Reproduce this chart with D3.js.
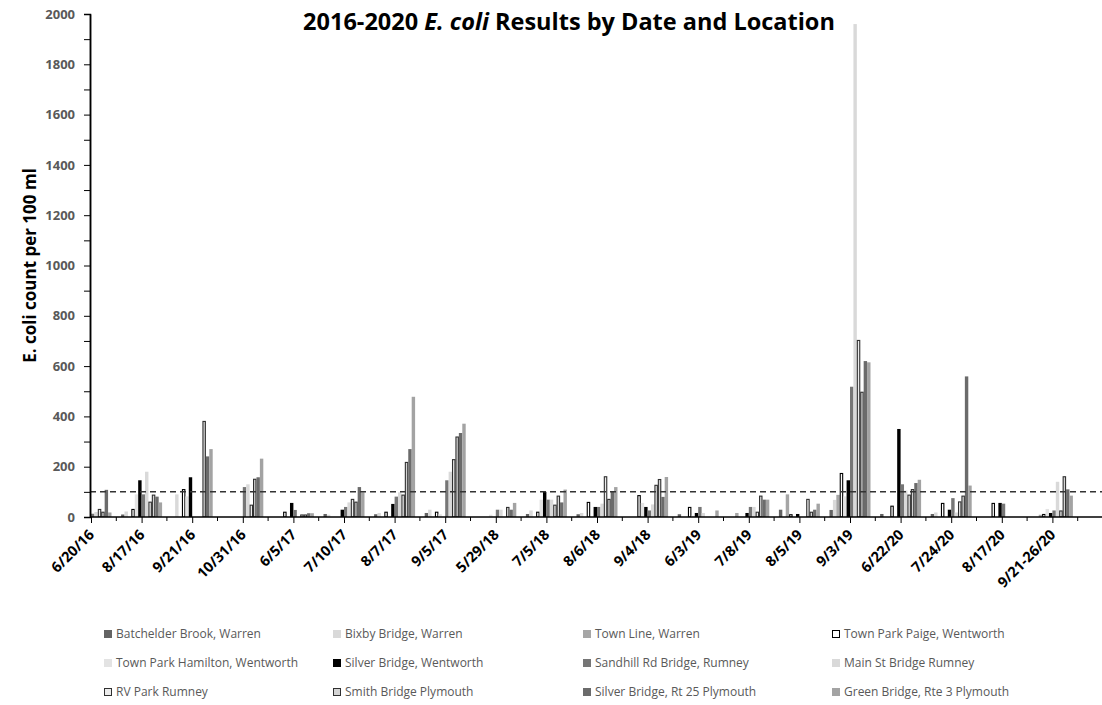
<!DOCTYPE html>
<html>
<head>
<meta charset="utf-8">
<script src="https://cdnjs.cloudflare.com/ajax/libs/d3/7.8.5/d3.min.js"></script>
<style>
  body { margin: 0; background: #fff; }
  text { font-family: "Open Sans", "DejaVu Sans", sans-serif; }
</style>
</head>
<body>
<div id="chart"></div>
<script>
// sample dates (category axis)
var dates = ["6/20/16", "8/17/16", "9/21/16", "10/31/16", "6/5/17", "7/10/17", "8/7/17", "9/5/17",
  "5/29/18", "7/5/18", "8/6/18", "9/4/18", "6/3/19", "7/8/19", "8/5/19", "9/3/19",
  "6/22/20", "7/24/20", "8/17/20", "9/21-26/20"];

var locations = ["Batchelder Brook, Warren", "Bixby Bridge, Warren", "Town Line, Warren",
  "Town Park Paige, Wentworth", "Town Park Hamilton, Wentworth", "Silver Bridge, Wentworth",
  "Sandhill Rd Bridge, Rumney", "Main St Bridge Rumney", "RV Park Rumney",
  "Smith Bridge Plymouth", "Silver Bridge, Rt 25 Plymouth", "Green Bridge, Rte 3 Plymouth"];

// E. coli counts per location, one value per date (null = no bar)
var batchelder = [null, 10, null, null, null, 12, 11, 16, null, 12, 11, null, 11, null, 29, 28, 12, 12, null, null];
var bixby = [null, 22, 90, null, null, 9, 16, 29, null, 26, 16, null, null, null, null, 68, null, 18, null, null];
var townLine = [null, null, null, null, null, null, null, null, null, null, null, null, null, 16, 90, 88, null, null, null, 9];
var paige = [null, 32, 111, null, 21, null, 21, 21, null, 21, 60, 87, 40, null, 11, 175, 45, 56, 56, 12];
var hamilton = [null, 90, 82, null, null, null, null, 11, 9, 69, null, 56, 5, null, null, 82, null, null, null, 32];
var silverWentworth = [null, 146, 158, null, 56, 29, 52, null, null, 100, 40, 40, 16, 16, 12, 146, 350, 29, 56, 16];
var sandhill = [13, 90, null, 119, 28, 40, 81, 146, 29, 69, 40, 26, 40, 40, null, 518, 130, 75, 53, 26];
var mainSt = [20, 180, null, 130, null, 58, 98, 180, 29, 69, 53, 50, 16, 40, null, 1960, 105, 18, null, 140];
var rvPark = [32, 61, null, 49, 10, 72, 89, 230, null, 49, 162, 128, null, 21, 72, 704, 89, 62, null, 26];
var smith = [21, 89, 382, 152, 10, 61, 219, 320, 40, 85, 72, 151, null, 85, 21, 498, 111, 85, null, 162];
var silverRt25 = [108, 81, 241, 158, 15, 119, 270, 334, 29, 58, 100, 80, null, 69, 29, 620, 135, 559, null, 110];
var green = [18, 58, 270, 232, 15, 98, 478, 371, 56, 109, 119, 159, 26, 69, 53, 615, 148, 125, null, 85];

var seriesValues = [batchelder, bixby, townLine, paige, hamilton, silverWentworth,
  sandhill, mainSt, rvPark, smith, silverRt25, green];

var yTicks = [0, 200, 400, 600, 800, 1000, 1200, 1400, 1600, 1800, 2000];
var standard = 100;

// bar styles (same order as locations)
var seriesFill = ["#636363", "#d9d9d9", "#a6a6a6", "#ffffff", "#e3e3e3", "#000000",
  "#767676", "#d9d9d9", "#ececec", "#d4d4d4", "#6b6b6b", "#a3a3a3"];
var seriesStroke = [null, null, null, "#000000", null, null,
  null, null, "#303030", "#303030", null, null];

var svgWidth = 1102;
var svgHeight = 705;

var margin = {
  top: 14,
  right: 0,
  bottom: 188,
  left: 90
};

var width = svgWidth - margin.left - margin.right;
var height = svgHeight - margin.top - margin.bottom;

var svg = d3
  .select("#chart")
  .append("svg")
  .attr("width", svgWidth)
  .attr("height", svgHeight);

var chartGroup = svg.append("g")
  .attr("transform", `translate(${margin.left}, ${margin.top})`);

// categories sit on the tick marks, so the first cluster is cut in half
var xScale = d3.scalePoint()
  .domain(dates)
  .range([1, 1 + 19 * 50.6]);

var innerScale = d3.scaleBand()
  .domain(locations)
  .range([-20.5, 20.5]);

var yScale = d3.scaleLinear()
  .domain([0, 2000])
  .range([height, 0]);

svg.append("defs").append("clipPath")
  .attr("id", "plotClip")
  .append("rect")
  .attr("x", 0)
  .attr("y", -20)
  .attr("width", width)
  .attr("height", height + 20);

// bars
var barsGroup = chartGroup.append("g")
  .attr("clip-path", "url(#plotClip)");

locations.forEach(function(loc, s) {
  var rows = dates.map(function(d, i) { return {date: d, value: seriesValues[s][i]}; })
    .filter(function(r) { return r.value !== null; });
  var stroke = seriesStroke[s];
  var inset = stroke ? 0.5 : 0;

  barsGroup.selectAll(".bar-" + s)
    .data(rows)
    .enter()
    .append("rect")
    .attr("class", "bar-" + s)
    .attr("x", d => xScale(d.date) + innerScale(loc) + inset)
    .attr("y", d => yScale(d.value) + inset)
    .attr("width", innerScale.bandwidth() - 2 * inset)
    .attr("height", d => Math.max(0, yScale(0) - yScale(d.value) - inset))
    .attr("fill", seriesFill[s])
    .attr("stroke", stroke)
    .attr("stroke-width", stroke ? 1.1 : 0);
});

// 100 per 100 ml standard line
chartGroup.append("line")
  .attr("x1", 0)
  .attr("x2", width)
  .attr("y1", yScale(standard))
  .attr("y2", yScale(standard))
  .attr("stroke", "#333")
  .attr("stroke-width", 1.5)
  .attr("stroke-dasharray", "6,4");

// y axis
var leftAxis = d3.axisLeft(yScale)
  .tickValues(yTicks)
  .tickFormat(d3.format("d"))
  .tickSizeOuter(0)
  .tickSize(6)
  .tickPadding(9);

var yAxis = chartGroup.append("g")
  .call(leftAxis);

chartGroup.append("g")
  .call(d3.axisLeft(yScale)
    .tickValues(yTicks.slice(1).map(t => t - standard))
    .tickSize(6)
    .tickSizeOuter(0)
    .tickFormat(""));

yAxis.selectAll("text")
  .attr("fill", "#595959")
  .style("font-size", "13px")
  .style("font-weight", "bold");

// x axis
var bottomAxis = d3.axisBottom(xScale)
  .tickSize(6)
  .tickFormat(d => d);

var xAxis = chartGroup.append("g")
  .attr("transform", `translate(0, ${height})`)
  .call(bottomAxis);

xAxis.select(".domain").remove();

xAxis.selectAll("text")
  .attr("fill", "#000")
  .style("font-size", "14.5px")
  .style("font-weight", "bold")
  .attr("text-anchor", "end")
  .attr("x", 0)
  .attr("y", 0)
  .attr("dy", "0.35em")
  .attr("transform", "translate(0, 15) rotate(-45)");

// minor ticks between categories
xAxis.selectAll(".minor")
  .data(dates)
  .enter()
  .append("line")
  .attr("class", "minor")
  .attr("x1", d => xScale(d) + xScale.step() / 2)
  .attr("x2", d => xScale(d) + xScale.step() / 2)
  .attr("y1", 0)
  .attr("y2", 4)
  .attr("stroke", "#000");

xAxis.append("line")
  .attr("x1", 0)
  .attr("x2", width)
  .attr("y1", 0)
  .attr("y2", 0)
  .attr("stroke", "#000")
  .attr("stroke-width", 1.5);

chartGroup.selectAll(".domain")
  .attr("stroke-width", 1.5);

// axis title
chartGroup.append("text")
  .attr("transform", "rotate(-90)")
  .attr("x", -height / 2)
  .attr("y", -54)
  .attr("text-anchor", "middle")
  .style("font-size", "17px")
  .style("font-weight", "bold")
  .text("E. coli count per 100 ml");

// chart title
var title = svg.append("text")
  .attr("x", 569)
  .attr("y", 30)
  .attr("text-anchor", "middle")
  .style("font-size", "23.5px")
  .style("font-weight", "bold");

title.append("tspan").text("2016-2020 ");
title.append("tspan").style("font-style", "italic").text("E. coli");
title.append("tspan").text(" Results by Date and Location");

// legend, 4 columns x 3 rows
var legendCols = [104, 333, 583, 832];
var legendRows = [634, 663, 692];

var legend = svg.append("g");

locations.forEach(function(loc, s) {
  var lx = legendCols[s % 4];
  var ly = legendRows[Math.floor(s / 4)];
  var stroke = seriesStroke[s];

  legend.append("rect")
    .attr("x", lx + (stroke ? 0.5 : 0))
    .attr("y", ly - 4 + (stroke ? 0.5 : 0))
    .attr("width", stroke ? 7 : 8)
    .attr("height", stroke ? 7 : 8)
    .attr("fill", seriesFill[s])
    .attr("stroke", stroke)
    .attr("stroke-width", stroke ? 1 : 0);

  legend.append("text")
    .attr("x", lx + 12)
    .attr("y", ly)
    .attr("dy", "0.35em")
    .attr("fill", "#595959")
    .style("font-size", "12px")
    .text(loc);
});
</script>
</body>
</html>
